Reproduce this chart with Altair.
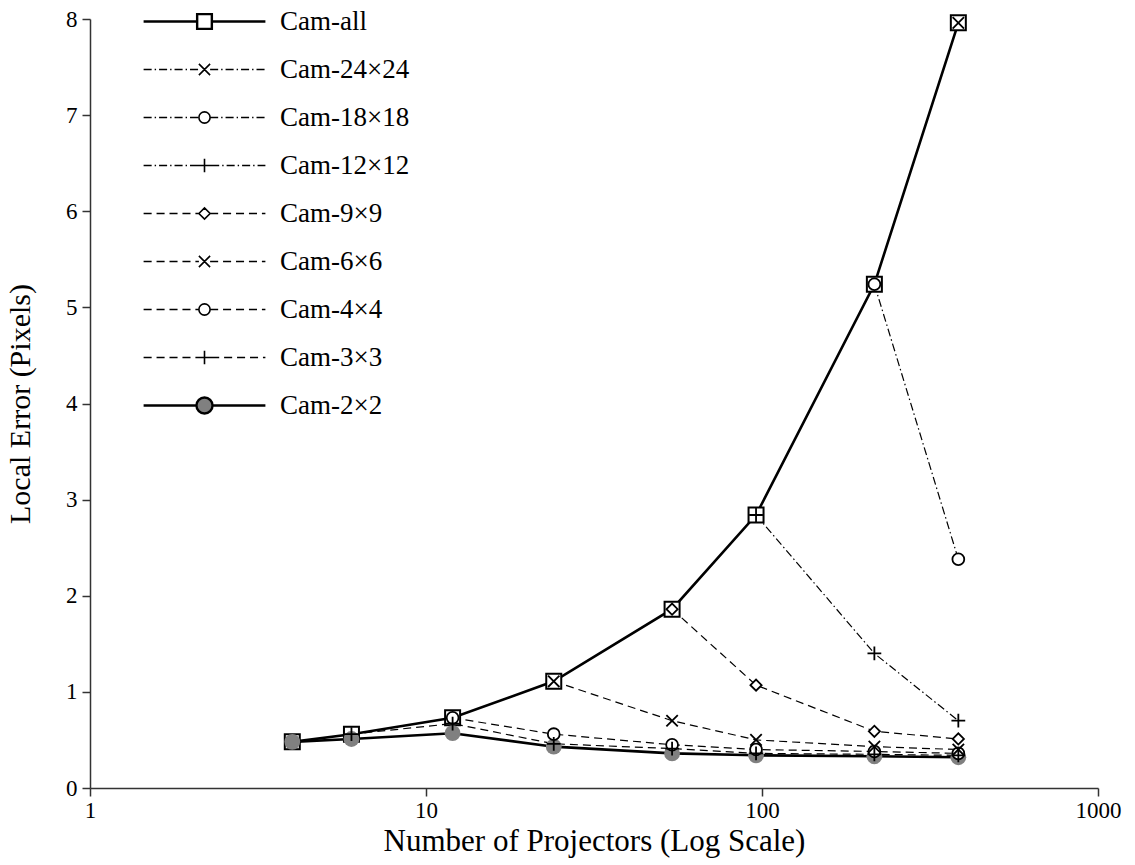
import altair as alt
import pandas as pd

# ---------------- data ----------------
projectors = [4, 6, 12, 24, 54, 96, 216, 384]
series_names = ["Cam-all", "Cam-24×24", "Cam-18×18", "Cam-12×12", "Cam-9×9",
                "Cam-6×6", "Cam-4×4", "Cam-3×3", "Cam-2×2"]

cam_all = [0.48, 0.56, 0.73, 1.11, 1.86, 2.84, 5.24, 7.96]
cam_24x24 = [None, None, None, None, None, None, None, 7.96]
cam_18x18 = [None, None, None, None, None, None, 5.24, 2.38]
cam_12x12 = [None, None, None, None, None, 2.84, 1.40, 0.70]
cam_9x9 = [None, None, None, None, 1.86, 1.07, 0.59, 0.51]
cam_6x6 = [None, None, None, 1.11, 0.70, 0.50, 0.43, 0.40]
cam_4x4 = [None, None, 0.73, 0.56, 0.45, 0.40, 0.38, 0.36]
cam_3x3 = [None, 0.56, 0.67, 0.46, 0.41, 0.36, 0.35, 0.34]
cam_2x2 = [0.48, 0.51, 0.57, 0.43, 0.36, 0.34, 0.33, 0.32]

values = [cam_all, cam_24x24, cam_18x18, cam_12x12, cam_9x9,
          cam_6x6, cam_4x4, cam_3x3, cam_2x2]

rows = []
for name, vals in zip(series_names, values):
    for p, v in zip(projectors, vals):
        if v is not None:
            rows.append({"series": name, "projectors": p, "error": v})
df = pd.DataFrame(rows)

# ---------------- styling helpers ----------------
FONT = "Liberation Serif"
BLACK = "#000000"
GRAY = "#808080"

X_PATH = "M-1,-1L1,1M-1,1L1,-1"
PLUS_PATH = "M-1,0L1,0M0,-1L0,1"

# legend glyphs: line sample + marker, in symbol units (1 unit = 7 px)
HALF = 8.7
SOLID = [(100.0, 0.0)]
DASHDOT = [(1.15, 0.43), (0.2, 0.43)]
DASHED = [(1.15, 0.7)]


def _pattern(x0, x1, pattern):
    out = []
    x, i = x0, 0
    while x < x1 - 1e-6:
        on, off = pattern[i % len(pattern)]
        e = min(x + on, x1)
        out.append(f"M{x:.2f},0L{e:.2f},0")
        x = e + off
        i += 1
    return "".join(out)


def _glyph(marker, h, pattern):
    if marker == "square":
        m = f"M{-h},{-h}L{h},{-h}L{h},{h}L{-h},{h}Z"
    elif marker == "circle":
        m = f"M{h},0A{h},{h} 0 1,1 {-h},0A{h},{h} 0 1,1 {h},0Z"
    elif marker == "diamond":
        m = f"M{-h},0L0,{-h}L{h},0L0,{h}Z"
    elif marker == "x":
        m = f"M{-h},{-h}L{h},{h}M{-h},{h}L{h},{-h}"
    else:
        m = f"M{-h},0L{h},0M0,{-h}L0,{h}"
    return _pattern(-HALF, -h, pattern) + _pattern(h, HALF, pattern) + m


legend_shapes = [
    _glyph("square", 1.05, SOLID),
    _glyph("x", 0.8, DASHDOT),
    _glyph("circle", 0.8, DASHDOT),
    _glyph("plus", 0.95, DASHDOT),
    _glyph("diamond", 0.8, DASHED),
    _glyph("x", 0.8, DASHED),
    _glyph("circle", 0.8, DASHED),
    _glyph("plus", 0.95, DASHED),
    _glyph("circle", 1.15, SOLID),
]
legend_fills = ["white", "transparent", "white", "transparent", "white",
                "transparent", "white", "transparent", GRAY]
legend_strokes = [BLACK] * 9
legend_widths = [2.4, 1.6, 1.6, 1.6, 1.6, 1.6, 1.6, 1.6, 2.4]

# ---------------- encodings ----------------
x_axis = alt.Axis(values=[1, 10, 100, 1000], format="d", title="Number of Projectors (Log Scale)",
                  grid=False, tickSize=8, tickWidth=1.5, domainWidth=1.5,
                  domainColor="#333333", tickColor="#333333", labelColor=BLACK, titleColor=BLACK,
                  labelFont=FONT, labelFontSize=23, titleFont=FONT, titleFontSize=31,
                  titleFontWeight="normal", labelPadding=3, titlePadding=4,
                  labelFlush=False, labelOverlap=False)
y_axis = alt.Axis(values=list(range(0, 9)), format="d", title="Local Error (Pixels)",
                  grid=False, tickSize=8, tickWidth=1.5, domainWidth=1.5,
                  domainColor="#333333", tickColor="#333333", labelColor=BLACK, titleColor=BLACK,
                  labelFont=FONT, labelFontSize=23, titleFont=FONT, titleFontSize=30,
                  titleFontWeight="normal", labelPadding=5, titlePadding=30)

X = alt.X("projectors:Q", scale=alt.Scale(type="log", domain=[1, 1000], nice=False), axis=x_axis)
Y = alt.Y("error:Q", scale=alt.Scale(domain=[0, 8], nice=False, zero=True), axis=y_axis)
Xn = alt.X("projectors:Q")
Yn = alt.Y("error:Q")

base = alt.Chart(df)


def only(names):
    return alt.FieldOneOfPredicate(field="series", oneOf=names)


thin_names = series_names[1:8]
lines_all = base.transform_filter(only(["Cam-all"])).mark_line(
    color=BLACK, strokeWidth=2.6).encode(x=X, y=Y)
lines_thin = base.transform_filter(only(thin_names)).mark_line(
    color=BLACK, strokeWidth=1.2).encode(
    x=Xn, y=Yn,
    strokeDash=alt.StrokeDash("series:N", legend=None, scale=alt.Scale(
        domain=thin_names,
        range=[[8, 3, 1.5, 3]] * 3 + [[8, 5]] * 4)))
lines_2x2 = base.transform_filter(only(["Cam-2×2"])).mark_line(
    color=BLACK, strokeWidth=2.6).encode(x=Xn, y=Yn)

squares = base.transform_filter(only(["Cam-all"])).mark_point(
    shape="square", size=225, filled=True, fill="white", stroke=BLACK,
    strokeWidth=2, opacity=1).encode(x=Xn, y=Yn)
grays = base.transform_filter(only(["Cam-2×2"])).mark_point(
    shape="circle", size=250, filled=True, fill=GRAY, strokeWidth=0,
    opacity=1).encode(x=Xn, y=Yn)
circles = base.transform_filter(only(["Cam-18×18", "Cam-4×4"])).mark_point(
    shape="circle", size=140, filled=True, fill="white", stroke=BLACK,
    strokeWidth=1.8, opacity=1).encode(x=Xn, y=Yn)
diamonds = base.transform_filter(only(["Cam-9×9"])).mark_point(
    shape="diamond", size=125, filled=True, fill="white", stroke=BLACK,
    strokeWidth=1.8, opacity=1).encode(x=Xn, y=Yn)
crosses = base.transform_filter(only(["Cam-24×24", "Cam-6×6"])).mark_point(
    shape=X_PATH, size=130, filled=False, stroke=BLACK,
    strokeWidth=1.8, opacity=1).encode(x=Xn, y=Yn)
pluses = base.transform_filter(only(["Cam-12×12", "Cam-3×3"])).mark_point(
    shape=PLUS_PATH, size=190, filled=False, stroke=BLACK,
    strokeWidth=1.8, opacity=1).encode(x=Xn, y=Yn)

legend = alt.Legend(title=None, orient="none", legendX=52, legendY=-11,
                    labelFont=FONT, labelFontSize=27, labelColor=BLACK, labelLimit=0,
                    symbolSize=196, symbolOpacity=1, symbolStrokeColor=BLACK,
                    symbolOffset=49, labelOffset=62, rowPadding=20, padding=0)

legend_layer = base.mark_point(opacity=0, stroke=BLACK).encode(
    x=Xn, y=Yn,
    shape=alt.Shape("series:N", legend=legend,
                    scale=alt.Scale(domain=series_names, range=legend_shapes)),
    fill=alt.Fill("series:N", legend=legend,
                  scale=alt.Scale(domain=series_names, range=legend_fills)),
    stroke=alt.Stroke("series:N", legend=legend,
                      scale=alt.Scale(domain=series_names, range=legend_strokes)),
    strokeWidth=alt.StrokeWidth("series:N", legend=legend,
                                scale=alt.Scale(type="ordinal", domain=series_names,
                                                range=legend_widths)),
)

chart = alt.layer(
    lines_all, lines_thin, lines_2x2,
    squares, grays, circles, diamonds, crosses, pluses,
    legend_layer,
).properties(
    width=1008, height=769,
    padding={"left": 90, "top": 19, "right": 37, "bottom": 77},
    autosize=alt.AutoSizeParams(type="none"),
    background="white",
).configure_view(stroke=None)

chart.save("out.html", embed_options={"renderer": "svg", "actions": False})
